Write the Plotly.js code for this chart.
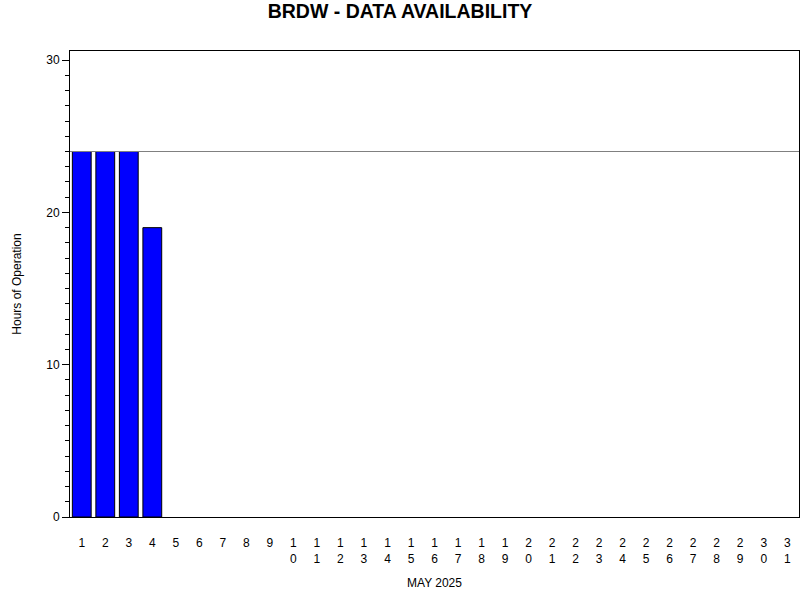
<!DOCTYPE html>
<html>
<head>
<meta charset="utf-8">
<script src="https://cdn.plot.ly/plotly-3.0.1.min.js"></script>
<style>html,body{margin:0;padding:0;background:#fff;}#chart{width:800px;height:600px;}</style>
</head>
<body>
<div id="chart"></div>
<script>
const days = [1,2,3,4,5,6,7,8,9,10,11,12,13,14,15,16,17,18,19,20,21,22,23,24,25,26,27,28,29,30,31];
const dayLabels = ["1","2","3","4","5","6","7","8","9","1<br>0","1<br>1","1<br>2","1<br>3","1<br>4","1<br>5","1<br>6","1<br>7","1<br>8","1<br>9","2<br>0","2<br>1","2<br>2","2<br>3","2<br>4","2<br>5","2<br>6","2<br>7","2<br>8","2<br>9","3<br>0","3<br>1"];
const hours = [24,24,24,19,0,0,0,0,0,0,0,0,0,0,0,0,0,0,0,0,0,0,0,0,0,0,0,0,0,0,0];
const fullDay = 24;
const yTicks = [0,10,20,30];

const ff = "Liberation Sans, Arial, sans-serif";

Plotly.newPlot("chart", [{
  type: "bar",
  x: days,
  y: hours,
  width: 0.8,
  marker: {color: "#0000ff", line: {color: "#000", width: hours.map(h => h > 0 ? 1 : 0)}},
  hoverinfo: "skip"
}], {
  width: 800, height: 600,
  margin: {l: 70, r: 1, t: 51, b: 83, pad: 0},
  paper_bgcolor: "#fff", plot_bgcolor: "#fff",
  font: {family: ff, size: 12, color: "#000"},
  showlegend: false,
  title: {text: "<b>BRDW - DATA AVAILABILITY</b>", x: 0.5, xanchor: "center", y: 0.982, yanchor: "middle",
          font: {family: ff, size: 19.5, color: "#000"}},
  xaxis: {
    range: [0.5, 31.5],
    tickmode: "array", tickvals: days, ticktext: dayLabels,
    ticks: "", ticklabelstandoff: 15,
    showgrid: false, zeroline: false,
    showline: true, linecolor: "#000", linewidth: 1, mirror: true,
    tickfont: {family: ff, size: 12},
    automargin: false,
    title: {text: "MAY 2025", standoff: 13, font: {family: ff, size: 12}}
  },
  yaxis: {
    range: [0, 30.6],
    tickmode: "array", tickvals: yTicks,
    ticks: "outside", ticklen: 7, tickcolor: "#000", tickwidth: 1,
    minor: {dtick: 1, ticks: "outside", ticklen: 4, tickcolor: "#000", showgrid: false},
    showgrid: false, zeroline: false,
    showline: true, linecolor: "#000", linewidth: 1, mirror: true,
    tickfont: {family: ff, size: 12},
    automargin: false,
    title: {text: "Hours of Operation", font: {family: ff, size: 12}, standoff: 22}
  },
  shapes: [{
    type: "line", xref: "paper", x0: 0, x1: 1, yref: "y", y0: fullDay, y1: fullDay,
    line: {color: "#808080", width: 1}
  }]
}, {displayModeBar: false, staticPlot: true});
</script>
</body>
</html>
